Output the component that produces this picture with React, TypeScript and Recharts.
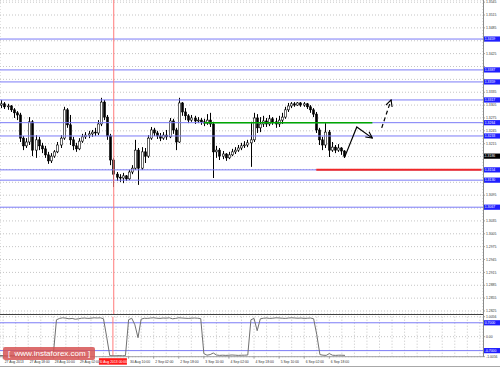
import React from "react";
import { ComposedChart, Bar, Line, XAxis, YAxis, CartesianGrid, ReferenceLine } from "recharts";

// EURUSD, 2h candles, 27 Aug - 6 Sep 2013
const firstOpen = 1.3305;
const closes = [
  1.3308, 1.3301, 1.3303, 1.3294, 1.3287, 1.3282, 1.3228, 1.3210, 1.3219, 1.3266,
  1.3200, 1.3224, 1.3210, 1.3203, 1.3189, 1.3175, 1.3186, 1.3196, 1.3212, 1.3228,
  1.3294, 1.3259, 1.3224, 1.3210, 1.3203, 1.3221, 1.3231, 1.3235, 1.3238, 1.3242,
  1.3240, 1.3261, 1.3312, 1.3277, 1.3233, 1.3177, 1.3144, 1.3137, 1.3135, 1.3140,
  1.3133, 1.3149, 1.3158, 1.3200, 1.3158, 1.3196, 1.3186, 1.3228, 1.3247, 1.3240,
  1.3233, 1.3228, 1.3235, 1.3231, 1.3268, 1.3247, 1.3219, 1.3310, 1.3289, 1.3280,
  1.3270, 1.3275, 1.3268, 1.3270, 1.3266, 1.3263, 1.3270, 1.3261, 1.3196, 1.3200,
  1.3186, 1.3191, 1.3182, 1.3189, 1.3196, 1.3200, 1.3205, 1.3210, 1.3212, 1.3217,
  1.3224, 1.3275, 1.3252, 1.3261, 1.3268, 1.3261, 1.3273, 1.3266, 1.3261, 1.3270,
  1.3277, 1.3294, 1.3303, 1.3308, 1.3305, 1.3310, 1.3305, 1.3308, 1.3301, 1.3294,
  1.3284, 1.3247, 1.3224, 1.3212, 1.3242, 1.3200, 1.3207, 1.3200, 1.3205, 1.3198, 1.3186,
];
const highs = [
  1.3317, 1.3312, 1.3308, 1.3305, 1.3298, 1.3291, 1.3287, 1.3233, 1.3228, 1.3277,
  1.3270, 1.3235, 1.3231, 1.3217, 1.3210, 1.3196, 1.3193, 1.3200, 1.3219, 1.3235,
  1.3301, 1.3298, 1.3282, 1.3231, 1.3217, 1.3228, 1.3238, 1.3242, 1.3245, 1.3247,
  1.3252, 1.3270, 1.3322, 1.3317, 1.3282, 1.3238, 1.3182, 1.3149, 1.3144, 1.3147,
  1.3142, 1.3154, 1.3165, 1.3224, 1.3205, 1.3207, 1.3205, 1.3235, 1.3254, 1.3252,
  1.3245, 1.3240, 1.3242, 1.3247, 1.3275, 1.3273, 1.3252, 1.3322, 1.3312, 1.3298,
  1.3284, 1.3282, 1.3280, 1.3277, 1.3275, 1.3273, 1.3284, 1.3287, 1.3266, 1.3210,
  1.3205, 1.3198, 1.3193, 1.3196, 1.3203, 1.3207, 1.3212, 1.3217, 1.3221, 1.3224,
  1.3266, 1.3287, 1.3284, 1.3277, 1.3280, 1.3275, 1.3282, 1.3277, 1.3275, 1.3280,
  1.3287, 1.3301, 1.3310, 1.3312, 1.3312, 1.3312, 1.3312, 1.3312, 1.3310, 1.3305,
  1.3298, 1.3289, 1.3252, 1.3231, 1.3263, 1.3247, 1.3219, 1.3212, 1.3214, 1.3207, 1.3200,
];
const lows = [
  1.3298, 1.3296, 1.3294, 1.3289, 1.3275, 1.3270, 1.3219, 1.3200, 1.3205, 1.3212,
  1.3186, 1.3182, 1.3200, 1.3193, 1.3182, 1.3168, 1.3170, 1.3182, 1.3193, 1.3205,
  1.3224, 1.3252, 1.3212, 1.3200, 1.3196, 1.3200, 1.3217, 1.3226, 1.3228, 1.3231,
  1.3233, 1.3235, 1.3256, 1.3270, 1.3224, 1.3165, 1.3114, 1.3128, 1.3126, 1.3123,
  1.3128, 1.3130, 1.3144, 1.3154, 1.3119, 1.3154, 1.3170, 1.3182, 1.3224, 1.3233,
  1.3226, 1.3221, 1.3224, 1.3224, 1.3228, 1.3238, 1.3200, 1.3217, 1.3280, 1.3270,
  1.3263, 1.3266, 1.3261, 1.3263, 1.3259, 1.3256, 1.3259, 1.3254, 1.3135, 1.3182,
  1.3177, 1.3179, 1.3175, 1.3179, 1.3186, 1.3191, 1.3196, 1.3200, 1.3205, 1.3207,
  1.3161, 1.3219, 1.3240, 1.3242, 1.3254, 1.3254, 1.3256, 1.3259, 1.3252, 1.3254,
  1.3261, 1.3273, 1.3289, 1.3298, 1.3301, 1.3303, 1.3301, 1.3301, 1.3296, 1.3287,
  1.3277, 1.3240, 1.3212, 1.3200, 1.3205, 1.3184, 1.3196, 1.3193, 1.3196, 1.3189, 1.3182,
];
const oscillator = [
  -0.94, -0.95, -0.96, -0.95, -0.94, -0.95, -0.96, -0.95, -0.93, -0.95,
  -0.96, -0.95, -0.94, -0.95, -0.96, -0.95, -0.95, -0.9, 0.85, 0.92,
  0.95, 0.93, 0.9, 0.92, 0.88, 0.9, 0.93, 0.94, 0.92, 0.93,
  0.95, 0.94, 0.95, 0.9, 0.0, -0.95, -0.96, -0.96, -0.95, -0.96,
  -0.95, 0.85, 0.93, 0.6, -0.05, 0.88, 0.93, 0.92, 0.94, 0.95,
  0.93, 0.92, 0.94, 0.93, 0.95, 0.9, 0.92, 0.95, 0.94, 0.93,
  0.92, 0.93, 0.94, 0.93, 0.91, -0.85, -0.93, -0.9, -0.82, -0.92,
  -0.94, -0.93, -0.94, -0.93, -0.92, -0.93, -0.94, -0.93, -0.93, -0.92,
  0.85, 0.92, 0.3, 0.9, 0.93, 0.94, 0.92, 0.93, 0.95, 0.94,
  0.93, 0.92, 0.94, 0.95, 0.94, 0.93, 0.94, 0.92, 0.93, 0.94,
  0.9, 0.1, -0.9, -0.93, -0.94, -0.85, -0.93, -0.94, -0.93, -0.93, -0.94,
];

const TOTAL_SLOTS = 155;
const priceTicks = [
  1.2825, 1.2855, 1.2885, 1.2915, 1.2945, 1.2975, 1.3005, 1.3035, 1.3065, 1.3095,
  1.3125, 1.3155, 1.3185, 1.3215, 1.3245, 1.3275, 1.3305, 1.3335, 1.3365, 1.3395,
  1.3425, 1.3455, 1.3485, 1.3515, 1.3545,
];
const levelLines = [1.3459, 1.3387, 1.3359, 1.3317, 1.3264, 1.3233, 1.3154, 1.3130, 1.3067];
const resistance = 1.3264;
const support = 1.3154;
const currentPrice = 1.3186;
const oscTicks = [1.0056, 0, -1.0056];
const oscLevels = [0.7, -0.7];

const dateSlots = [1, 9, 17, 25, 41, 49, 57, 65, 73, 81, 89, 97, 105];
const dateLabels = [
  "27 Aug 2013", "27 Aug 18:00", "28 Aug 10:00", "29 Aug 02:00", "30 Aug 10:00",
  "2 Sep 02:00", "2 Sep 18:00", "3 Sep 10:00", "4 Sep 02:00", "4 Sep 18:00",
  "5 Sep 10:00", "6 Sep 02:00", "6 Sep 18:00",
];
const markerSlot = 36;
const markerLabel = "30 Aug 2013 00:00";

// forecast arrows drawn on the chart
const forecastA = [{ t: 110, price: 1.3182 }, { t: 114, price: 1.3254 }, { t: 119, price: 1.3228 }];
const forecastB = [{ t: 122, price: 1.3252 }, { t: 125, price: 1.3317 }];
const resistanceSpan = [65, 119];
const supportSpan = [101, 154];

const gridSlots = Array.from({ length: 39 }, (_, i) => 1 + i * 4);

const rows: any[] = Array.from({ length: TOTAL_SLOTS }, (_, t) => {
  const row: any = { t };
  if (t < closes.length) {
    const o = t === 0 ? firstOpen : closes[t - 1];
    const c = closes[t];
    row.o = o;
    row.c = c;
    row.range = [Math.min(lows[t], o, c), Math.max(highs[t], o, c)];
    row.osc = oscillator[t];
  }
  return row;
});
forecastA.forEach((p) => (rows[p.t].fcA = p.price));
forecastB.forEach((p) => (rows[p.t].fcB = p.price));

const FONT = "'Liberation Sans', Arial, sans-serif";
const taggedPrices = [...levelLines, currentPrice];

function Candle(props: any) {
  const { x, y, width, height, payload } = props;
  if (!payload || !payload.range) return null;
  const [lo, hi] = payload.range;
  const top = Math.min(y, y + height);
  const span = Math.abs(height);
  const k = span / (hi - lo || 1);
  const yOf = (v: number) => top + (hi - v) * k;
  const cx = Math.round(x + width / 2) + 0.5;
  const yo = yOf(payload.o);
  const yc = yOf(payload.c);
  const bull = payload.c >= payload.o;
  const bt = Math.min(yo, yc);
  const bh = Math.max(Math.abs(yc - yo), 0.8);
  return (
    <g>
      <line x1={cx} x2={cx} y1={top} y2={top + span} stroke="#000" strokeWidth={1} />
      <rect x={cx - 1} y={bt} width={2} height={bh} fill={bull ? "#fff" : "#000"} stroke="#000" strokeWidth={0.6} />
    </g>
  );
}

// price labels that sit under a level tag are hidden, as the terminal does
function PriceTick(props: any) {
  const { x, y, payload } = props;
  if (taggedPrices.some((p) => Math.abs(p - payload.value) < 0.001)) return null;
  return (
    <text x={x} y={y + 1.2} fontSize={3.4} fill="#333" fontFamily={FONT}>
      {payload.value.toFixed(4)}
    </text>
  );
}

function Tag(props: any) {
  const { viewBox, text, fill } = props;
  if (!viewBox) return null;
  const x0 = viewBox.x + viewBox.width + 1;
  return (
    <g>
      <rect x={x0} y={viewBox.y - 2.6} width={16} height={5.2} fill={fill} />
      <text x={x0 + 0.8} y={viewBox.y + 1.3} fontSize={3.4} fill="#fff" fontFamily={FONT}>
        {text}
      </text>
    </g>
  );
}

function TimeTag(props: any) {
  const { viewBox } = props;
  if (!viewBox) return null;
  const yb = viewBox.y + viewBox.height + 1.5;
  return (
    <g>
      <rect x={viewBox.x - 14} y={yb} width={28} height={6.5} fill="#ff1a1a" />
      <text x={viewBox.x} y={yb + 4.6} fontSize={3.4} fill="#fff" textAnchor="middle" fontFamily={FONT}>
        {markerLabel}
      </text>
    </g>
  );
}

function DateTick(props: any) {
  const { x, y, payload } = props;
  const idx = dateSlots.indexOf(payload.value);
  if (idx < 0) return null;
  return (
    <g>
      <line x1={x} x2={x} y1={y} y2={y + 2} stroke="#666" strokeWidth={0.6} />
      <text x={x + 1.5} y={y + 6} fontSize={3.4} fill="#333" fontFamily={FONT}>
        {dateLabels[idx]}
      </text>
    </g>
  );
}

export default function App() {
  return (
    <div style={{ position: "relative", width: 500, height: 367, background: "#fff", overflow: "hidden" }}>
      <style>{"body{margin:0}"}</style>
      <svg width={0} height={0} style={{ position: "absolute" }}>
        <defs>
          <marker id="arrowHead" viewBox="0 0 10 10" refX={9} refY={5} markerWidth={8} markerHeight={8}
            markerUnits="userSpaceOnUse" orient="auto">
            <path d="M1,1 L9,5 L1,9" fill="none" stroke="#000" strokeWidth={1.4} />
          </marker>
        </defs>
      </svg>

      <ComposedChart width={500} height={314} data={rows} margin={{ top: 0, right: 0, bottom: 0, left: 0 }}>
        <CartesianGrid stroke="#c4c4c4" strokeDasharray="1 2" />
        <XAxis dataKey="t" type="category" ticks={gridSlots} interval={0} height={0} tick={false}
          axisLine={false} tickLine={false} />
        <YAxis orientation="right" width={17} type="number" domain={[1.2818, 1.355]} allowDataOverflow
          ticks={priceTicks} interval={0} tickSize={2} tickMargin={1} axisLine={false}
          tickLine={{ stroke: "#666", strokeWidth: 0.6 }}
          tick={(p: any) => <PriceTick {...p} />} />
        {levelLines.map((lv) => (
          <ReferenceLine key={lv} y={lv} stroke="#7b7bf7" strokeWidth={1}
            label={<Tag text={lv.toFixed(4)} fill="#1f1fff" />} />
        ))}
        <ReferenceLine y={currentPrice} stroke="none" label={<Tag text={currentPrice.toFixed(4)} fill="#000" />} />
        <ReferenceLine x={markerSlot} stroke="#ff7a7a" strokeWidth={1} />
        <ReferenceLine segment={[{ x: resistanceSpan[0], y: resistance }, { x: resistanceSpan[1], y: resistance }]}
          stroke="#00a800" strokeWidth={1.6} />
        <ReferenceLine segment={[{ x: supportSpan[0], y: support }, { x: supportSpan[1], y: support }]}
          stroke="#f02828" strokeWidth={2} />
        <Bar dataKey="range" shape={(p: any) => <Candle {...p} />} isAnimationActive={false} />
        <Line dataKey="fcA" stroke="#000" strokeWidth={1.2} dot={false} connectNulls
          isAnimationActive={false} markerEnd="url(#arrowHead)" />
        <Line dataKey="fcB" stroke="#000" strokeWidth={1.2} strokeDasharray="4 3" dot={false} connectNulls
          isAnimationActive={false} markerEnd="url(#arrowHead)" />
      </ComposedChart>

      <div style={{ position: "absolute", left: 0, top: 314, width: 483, height: 1, background: "#404040" }} />

      <div style={{ position: "absolute", left: 0, top: 314 }}>
        <ComposedChart width={500} height={53} data={rows} margin={{ top: 2.7, right: 0, bottom: 0, left: 0 }}>
          <CartesianGrid stroke="#c4c4c4" strokeDasharray="1 2" />
          <XAxis dataKey="t" type="category" ticks={gridSlots} interval={0} height={10.3}
            tickSize={0} tickMargin={0} tickLine={false} axisLine={{ stroke: "#a0a0a0" }}
            tick={(p: any) => <DateTick {...p} />} />
          <YAxis orientation="right" width={17} type="number" domain={[-1.0056, 1.0056]} allowDataOverflow
            ticks={oscTicks} interval={0} tickSize={2} tickMargin={1} axisLine={false}
            tickLine={{ stroke: "#666", strokeWidth: 0.6 }}
            tick={{ fontSize: 3.4, fill: "#333", fontFamily: FONT }}
            tickFormatter={(v: number) => (v === 0 ? "0.00" : v.toFixed(4))} />
          {oscLevels.map((lv) => (
            <ReferenceLine key={lv} y={lv} stroke="#7b7bf7" strokeWidth={1}
              label={<Tag text={lv.toFixed(4)} fill="#1f1fff" />} />
          ))}
          <ReferenceLine x={markerSlot} stroke="#ff7a7a" strokeWidth={1} label={<TimeTag />} />
          <Line dataKey="osc" stroke="#707070" strokeWidth={1} dot={false} isAnimationActive={false} />
        </ComposedChart>
      </div>

      <div style={{ position: "absolute", left: 483, top: 0, width: 1, height: 357, background: "#8a8a8a" }} />
      <div style={{ position: "absolute", left: 0, top: 366, width: 500, height: 1, background: "#a8a8a8" }} />

      <div style={{
        position: "absolute", left: 3, top: 347, width: 92, height: 13, borderRadius: 2,
        background: "rgba(214, 84, 84, 0.85)", color: "#fff", fontFamily: FONT, fontSize: 8,
        lineHeight: "13px", textAlign: "center", whiteSpace: "nowrap",
      }}>
        [&nbsp;&nbsp;www.instaforex.com&nbsp;]
      </div>
    </div>
  );
}
